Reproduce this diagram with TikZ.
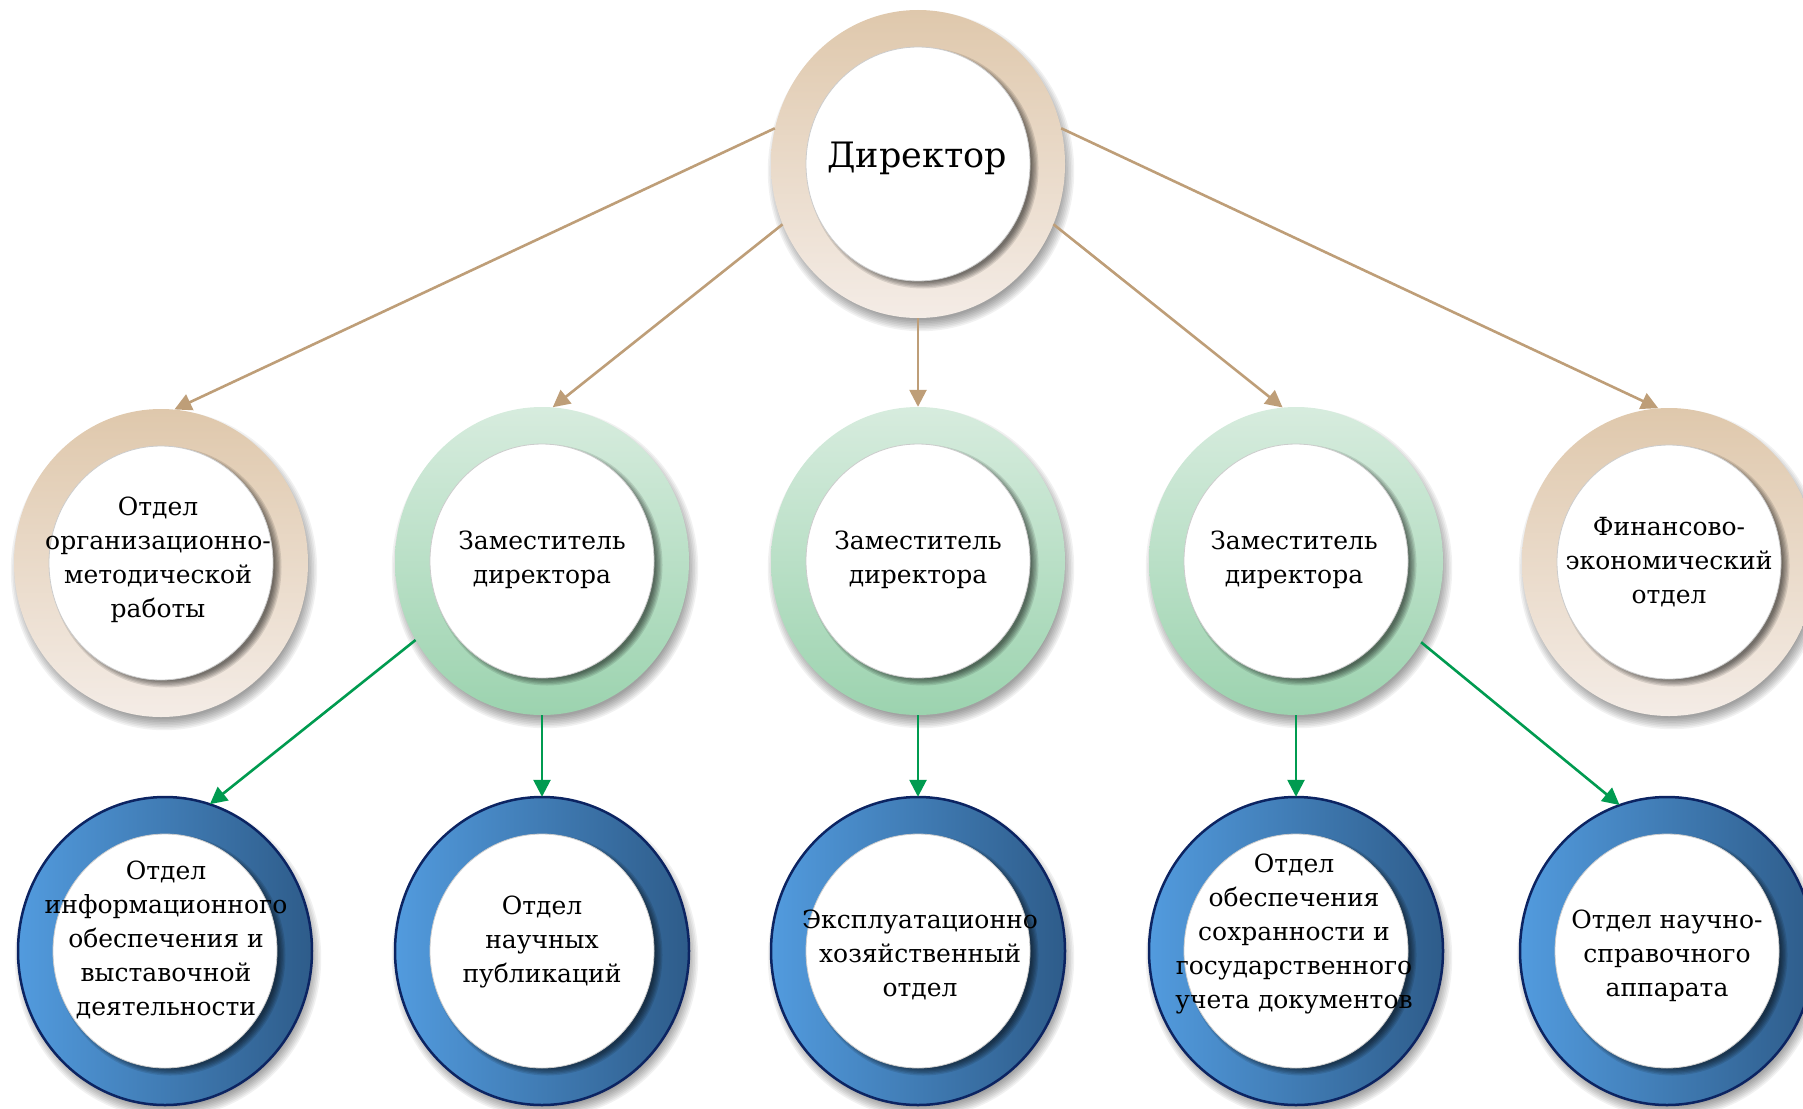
\documentclass[tikz,border=0pt]{standalone}
\usepackage{fontspec}
\setmainfont{DejaVu Serif}
\usetikzlibrary{arrows.meta,shapes.geometric,calc}
\definecolor{tanT}{RGB}{223,200,172}
\definecolor{tanB}{RGB}{244,236,230}
\definecolor{greenT}{RGB}{215,236,222}
\definecolor{greenB}{RGB}{156,211,175}
\definecolor{blueL}{RGB}{82,155,222}
\definecolor{blueR}{RGB}{46,92,138}
\definecolor{navy}{RGB}{12,36,98}
\definecolor{tanline}{RGB}{190,158,120}
\definecolor{greenline}{RGB}{0,155,80}
\tikzset{
  tanfill/.style={top color=tanT, bottom color=tanB},
  greenfill/.style={top color=greenT, bottom color=greenB},
  bluefill/.style={left color=blueL, right color=blueR, draw=navy, line width=2.5pt},
  ringshape/.style={ellipse, minimum width=294pt, minimum height=308pt, inner sep=0pt},
  txt/.style={align=center, font=\fontsize{25}{34}\selectfont, inner sep=0pt},
  tanarrow/.style={draw=tanline, line width=2.6pt, -{Triangle[length=17pt,width=17pt]}},
  greenarrow/.style={draw=greenline, line width=2.6pt, -{Triangle[length=17pt,width=17pt]}},
}
\newcommand{\ringdraw}[3]{%
  \foreach \k in {0,...,7} \fill[black,opacity=0.055] (#1+3,#2+7) ellipse [x radius=142+1.6*\k, y radius=149+1.6*\k];
  \path[#3] (#1,#2) ellipse [x radius=147, y radius=154];
  \foreach \k in {0,...,5} \fill[black,opacity=0.11] (#1+5,#2+4) ellipse [x radius=109+1.3*\k, y radius=114+1.3*\k];
  \fill[white] (#1,#2) ellipse [x radius=112, y radius=117];
  \draw[gray!40, line width=0.8pt] (#1,#2) ellipse [x radius=112, y radius=117];
}
\begin{document}
\begin{tikzpicture}[x=1pt,y=-1pt]
\useasboundingbox (0,0) rectangle (1803,1108);
% rings
\ringdraw{918}{164}{tanfill}
\ringdraw{161}{563}{tanfill}
\ringdraw{542}{561}{greenfill}
\ringdraw{918}{561}{greenfill}
\ringdraw{1296}{561}{greenfill}
\ringdraw{1669}{562}{tanfill}
\ringdraw{165}{951}{bluefill}
\ringdraw{542}{951}{bluefill}
\ringdraw{918}{951}{bluefill}
\ringdraw{1296}{951}{bluefill}
\ringdraw{1667}{951}{bluefill}
% named nodes
\node[ringshape] (dir) at (918,164) {};
\node[ringshape] (n1) at (161,563) {};
\node[ringshape] (n2) at (542,561) {};
\node[ringshape] (n3) at (918,561) {};
\node[ringshape] (n4) at (1296,561) {};
\node[ringshape] (n5) at (1669,562) {};
\node[ringshape] (b1) at (165,951) {};
\node[ringshape] (b2) at (542,951) {};
\node[ringshape] (b3) at (918,951) {};
\node[ringshape] (b4) at (1296,951) {};
\node[ringshape] (b5) at (1667,951) {};
% texts
\node[txt, font=\fontsize{35}{42}\selectfont] (dirt) at (917,158) {Директор};
\node[txt] (n1t) at (158,560) {Отдел\\организационно-\\методической\\работы};
\node[txt] (n2t) at (542,560) {Заместитель\\директора};
\node[txt] (n3t) at (918,560) {Заместитель\\директора};
\node[txt] (n4t) at (1294,560) {Заместитель\\директора};
\node[txt] (n5t) at (1669,562) {Финансово-\\экономический\\отдел};
\node[txt] (b1t) at (166,940) {Отдел\\информационного\\обеспечения и\\выставочной\\деятельности};
\node[txt] (b2t) at (542,942) {Отдел\\научных\\публикаций};
\node[txt] (b3t) at (920,955) {Эксплуатационно\\хозяйственный\\отдел};
\node[txt] (b4t) at (1294,934) {Отдел\\обеспечения\\сохранности и\\государственного\\учета документов};
\node[txt] (b5t) at (1667,956) {Отдел научно-\\справочного\\аппарата};
% connectors
\draw[tanarrow] (dir.166) -- (n1.85);
\draw[tanarrow] (dir.204) -- (n2.86);
\draw[tanarrow] (dir.south) -- (n3.north);
\draw[tanarrow] (dir.-24) -- (n4.95);
\draw[tanarrow] (dir.14) -- (n5.94);
\draw[greenarrow] (n2.212) -- (b1.73);
\draw[greenarrow] (n2.south) -- (b2.north);
\draw[greenarrow] (n3.south) -- (b3.north);
\draw[greenarrow] (n4.south) -- (b4.north);
\draw[greenarrow] (n4.-33) -- (b5.108);
\end{tikzpicture}
\end{document}
